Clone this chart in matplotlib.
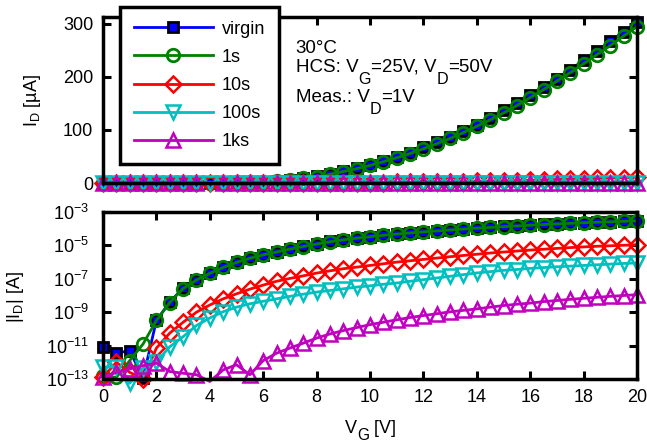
import matplotlib
matplotlib.use("Agg")
import matplotlib.pyplot as plt
import numpy as np

# Drain current after hot-carrier stress, linear (top) and log (bottom) view.
# Currents in A.

v_gate = np.arange(0, 20.5, 0.5)

i_virgin = [7.9e-12, 3.5e-12, 5.0e-12, 1.1e-13, 3.2e-10, 4.0e-9, 2.8e-8, 8.9e-8,
            2.2e-7, 5.0e-7, 1.0e-6, 1.8e-6, 2.8e-6, 4.2e-6, 6.3e-6, 8.9e-6,
            1.26e-5, 1.75e-5, 2.25e-5, 2.8e-5, 3.4e-5, 4.1e-5, 4.9e-5, 5.75e-5,
            6.7e-5, 7.65e-5, 8.7e-5, 9.8e-5, 1.10e-4, 1.23e-4, 1.37e-4, 1.51e-4,
            1.66e-4, 1.81e-4, 1.97e-4, 2.14e-4, 2.31e-4, 2.49e-4, 2.67e-4,
            2.85e-4, 3.03e-4]
i_1s = [1.6e-13, 1.25e-13, 1.25e-12, 1.25e-11, 3.2e-10, 3.8e-9, 2.6e-8, 8.5e-8,
        2.1e-7, 4.8e-7, 9.5e-7, 1.7e-6, 2.7e-6, 4.0e-6, 6.0e-6, 8.5e-6,
        1.2e-5, 1.65e-5, 2.15e-5, 2.7e-5, 3.3e-5, 4.0e-5, 4.75e-5, 5.55e-5,
        6.45e-5, 7.4e-5, 8.4e-5, 9.5e-5, 1.07e-4, 1.19e-4, 1.32e-4, 1.46e-4,
        1.61e-4, 1.76e-4, 1.92e-4, 2.08e-4, 2.25e-4, 2.42e-4, 2.59e-4,
        2.77e-4, 2.95e-4]
i_10s = [1.26e-13, 1.0e-12, 2.5e-13, 1.0e-13, 7.1e-12, 5.6e-11, 2.5e-10, 1.0e-9,
         2.7e-9, 6.3e-9, 1.26e-8, 2.4e-8, 4.2e-8, 7.1e-8, 1.05e-7, 1.5e-7,
         2.2e-7, 3.0e-7, 4.0e-7, 5.0e-7, 6.3e-7, 7.9e-7, 1.0e-6, 1.2e-6,
         1.45e-6, 1.74e-6, 2.1e-6, 2.5e-6, 2.95e-6, 3.5e-6, 4.0e-6, 4.6e-6,
         5.25e-6, 5.9e-6, 6.6e-6, 7.4e-6, 8.1e-6, 8.9e-6, 9.5e-6, 1.02e-5,
         1.10e-5]
i_100s = [5.0e-13, 5.6e-13, 5.6e-14, 4.5e-13, 1.07e-12, 8.5e-12, 3.4e-11, 1.6e-10,
          4.5e-10, 1.07e-9, 2.0e-9, 3.2e-9, 4.5e-9, 6.3e-9, 8.9e-9, 1.2e-8,
          1.6e-8, 2.0e-8, 2.5e-8, 3.2e-8, 3.8e-8, 4.7e-8, 5.6e-8, 7.1e-8,
          8.9e-8, 1.12e-7, 1.41e-7, 1.78e-7, 2.24e-7, 2.7e-7, 3.2e-7, 3.6e-7,
          4.2e-7, 4.7e-7, 5.25e-7, 5.75e-7, 6.3e-7, 6.9e-7, 7.6e-7, 8.3e-7,
          8.9e-7]
i_1ks = [1.26e-13, 2.5e-13, 4.0e-13, 6.3e-13, 8.9e-13, 2.8e-13, 2.2e-13, 1.8e-13,
         7.1e-14, 3.5e-13, 7.1e-13, 1.8e-13, 1.26e-12, 3.5e-12, 7.1e-12, 1.4e-11,
         2.8e-11, 5.0e-11, 7.9e-11, 1.2e-10, 1.8e-10, 2.5e-10, 3.5e-10, 4.8e-10,
         6.3e-10, 8.1e-10, 1.05e-9, 1.29e-9, 1.58e-9, 2.0e-9, 2.5e-9, 3.0e-9,
         3.5e-9, 4.3e-9, 5.0e-9, 5.9e-9, 6.8e-9, 7.8e-9, 8.9e-9, 1.0e-8,
         1.12e-8]

labels = ["virgin", "1s", "10s", "100s", "1ks"]
currents = [i_virgin, i_1s, i_10s, i_100s, i_1ks]
# points that sit below the log range and show no marker
hidden = {"1ks": [8]}

styles = {
    "virgin": dict(color="#0000ff", marker="s", ms=7, mfc="#0000ff", mec="black", mew=2),
    "1s": dict(color="#008000", marker="o", ms=9, mfc="none", mec="#008000", mew=2),
    "10s": dict(color="#ff0000", marker="D", ms=8, mfc="none", mec="#ff0000", mew=1.8),
    "100s": dict(color="#00bfbf", marker="v", ms=10, mfc="none", mec="#00bfbf", mew=1.8),
    "1ks": dict(color="#bf00bf", marker="^", ms=10, mfc="none", mec="#bf00bf", mew=1.8),
}

plt.rcParams.update({
    "font.family": ["Liberation Sans", "DejaVu Sans"],
    "font.size": 13,
    "mathtext.fontset": "custom",
    "mathtext.rm": "Liberation Sans",
    "mathtext.it": "Liberation Sans:italic",
    "mathtext.bf": "Liberation Sans:bold",
    "axes.linewidth": 2.5,
})


def sub_text(ax, x, y, parts, size, drop, sub_scale=0.86):
    # chain text pieces so the subscripts can be bigger and lower than mathtext
    first = ax.text(x, y, parts[0][0], transform=ax.transAxes, fontsize=size,
                    va="bottom", clip_on=False)
    prev, main = first, first
    for s, is_sub in parts[1:]:
        if is_sub:
            t = ax.annotate(s, xy=(1, 0), xycoords=prev, xytext=(0, -drop),
                            textcoords="offset points", fontsize=size * sub_scale,
                            va="bottom", annotation_clip=False)
        else:
            t = ax.annotate(s, xy=(1, 0), xycoords=(prev, main), fontsize=size,
                            va="bottom", annotation_clip=False)
            main = t
        prev = t


W, H = 647, 445
fig = plt.figure(figsize=(W / 100, H / 100), dpi=100)
ax1 = fig.add_axes([103 / W, 1 - 183 / H, 534 / W, 166 / H])
ax2 = fig.add_axes([103 / W, 1 - 379 / H, 534 / W, 167 / H])

for lab, cur in zip(labels, currents):
    cur = np.array(cur)
    keep = [i for i in range(len(v_gate)) if i not in hidden.get(lab, [])]
    ax1.plot(v_gate, cur * 1e6, lw=2, clip_on=False, markevery=keep,
             label=lab, **styles[lab])
    ax2.plot(v_gate, cur, lw=2, clip_on=False, markevery=keep, **styles[lab])

for ax in (ax1, ax2):
    ax.set_xlim(0, 20)
    ax.set_xticks(np.arange(0, 21, 2))
    ax.tick_params(direction="in", length=6, width=2.2, top=True, right=True,
                   labelsize=13)
    ax.tick_params(axis="x", pad=7)

ax1.set_ylim(0, 313)
ax1.set_yticks([0, 100, 200, 300])
ax1.tick_params(labelbottom=False)
ax1.tick_params(axis="y", pad=7)
ax1.set_ylabel(r"I$_\mathregular{D}$ [µA]", fontsize=13)
ax1.yaxis.set_label_coords(-0.112, 0.494)

ax2.set_yscale("log")
ax2.set_ylim(1e-13, 1e-3)
ax2.set_yticks([1e-13, 1e-11, 1e-9, 1e-7, 1e-5, 1e-3])
ax2.yaxis.set_minor_locator(matplotlib.ticker.NullLocator())
ax2.tick_params(axis="y", pad=10)
ax2.set_ylabel(r"|I$_\mathregular{D}$| [A]", fontsize=13)
ax2.yaxis.set_label_coords(-0.144, 0.49)

# x label "V_G [V]"
sub_text(ax2, 0.453, -0.347, [("V", False), ("G", True), (" [V]", False)],
         13, drop=4.5)

sub_text(ax1, 0.361, 0.759, [("30°C", False)], 13.5, drop=0)
sub_text(ax1, 0.361, 0.645,
         [("HCS: V", False), ("G", True), ("=25V, V", False), ("D", True),
          ("=50V", False)], 13.5, drop=8)
sub_text(ax1, 0.361, 0.464,
         [("Meas.: V", False), ("D", True), ("=1V", False)], 13.5, drop=8)

leg = ax1.legend(loc="upper left", bbox_to_anchor=(120 / W, 1 - 7 / H),
                 bbox_transform=fig.transFigure, borderaxespad=0, fontsize=13,
                 handlelength=4.4, handletextpad=0.5, borderpad=0.75,
                 labelspacing=0.62, fancybox=False, framealpha=1,
                 edgecolor="black")
leg.get_frame().set_linewidth(2.5)
leg.set_zorder(10)

fig.savefig("out.png", dpi=100)
